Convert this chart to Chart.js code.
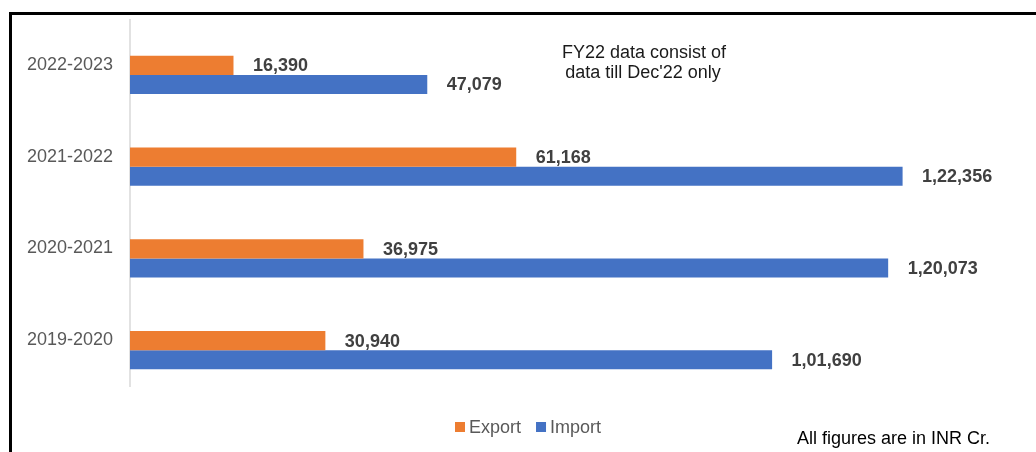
<!DOCTYPE html>
<html>
<head>
<meta charset="utf-8">
<script src="https://cdn.jsdelivr.net/npm/chart.js@4"></script>
<style>
  html, body { margin: 0; padding: 0; background: #fff; }
  #wrap { position: relative; width: 1036px; height: 452px; }
  #frame { position: absolute; left: 9px; top: 12px; right: 0; bottom: 0; border-top: 3px solid #000; border-left: 3px solid #000; pointer-events: none; }
</style>
</head>
<body>
<div id="wrap">
  <canvas id="tradeChart"></canvas>
  <div id="frame"></div>
</div>
<script>
const years = ["2022-2023", "2021-2022", "2020-2021", "2019-2020"];
const exportVals = [16390, 61168, 36975, 30940];
const importVals = [47079, 122356, 120073, 101690];
const noteLines = ["FY22 data consist of", "data till Dec'22 only"];
const unitNote = "All figures are in INR Cr.";

const FONT = '"Liberation Sans", Arial, sans-serif';
Chart.defaults.font.family = FONT;

// indian digit grouping, 122356 -> 1,22,356
function inr(n) {
  const s = String(Math.round(n));
  if (s.length <= 3) return s;
  const last3 = s.slice(-3);
  let rest = s.slice(0, -3);
  const parts = [];
  while (rest.length > 2) {
    parts.unshift(rest.slice(-2));
    rest = rest.slice(0, -2);
  }
  if (rest) parts.unshift(rest);
  return parts.join(",") + "," + last3;
}

// category axis line sits a bit higher than the bars, as in the excel original
const axisLine = {
  id: "axisLine",
  beforeDatasetsDraw(chart) {
    const c = chart.ctx;
    const a = chart.chartArea;
    c.save();
    c.strokeStyle = "#d9d9d9";
    c.lineWidth = 1.5;
    c.beginPath();
    c.moveTo(a.left, a.top - 10);
    c.lineTo(a.left, a.bottom - 9);
    c.stroke();
    c.restore();
  }
};

const valueLabels = {
  id: "valueLabels",
  afterDatasetsDraw(chart) {
    const c = chart.ctx;
    c.save();
    c.font = "bold 18px " + FONT;
    c.fillStyle = "#404040";
    c.textAlign = "left";
    c.textBaseline = "middle";
    chart.data.datasets.forEach((ds, i) => {
      chart.getDatasetMeta(i).data.forEach((bar, j) => {
        c.fillText(inr(ds.data[j]), bar.x + 19.5, bar.y + 1);
      });
    });
    c.restore();
  }
};

const notes = {
  id: "notes",
  afterDraw(chart) {
    const c = chart.ctx;
    c.save();
    c.font = "18px " + FONT;
    c.fillStyle = "#1a1a1a";
    c.textBaseline = "alphabetic";
    c.textAlign = "center";
    c.fillText(noteLines[0], 644, 58);
    c.fillText(noteLines[1], 643, 77.5);
    c.textAlign = "left";
    c.fillStyle = "#000";
    c.fillText(unitNote, 797, 443.5);

    // legend
    let x = 455;
    chart.data.datasets.forEach(ds => {
      c.fillStyle = ds.backgroundColor;
      c.fillRect(x, 422, 10, 10);
      c.fillStyle = "#595959";
      c.fillText(ds.label, x + 14, 432.7);
      x += 14 + c.measureText(ds.label).width + 15;
    });
    c.restore();
  }
};

new Chart(document.getElementById("tradeChart"), {
  type: "bar",
  data: {
    labels: years,
    datasets: [
      { label: "Export", data: exportVals, backgroundColor: "#ED7D31" },
      { label: "Import", data: importVals, backgroundColor: "#4472C4" }
    ]
  },
  options: {
    indexAxis: "y",
    responsive: true,
    maintainAspectRatio: false,
    animation: false,
    categoryPercentage: 0.415,
    barPercentage: 1,
    layout: { padding: { left: 0, right: 22, top: 29, bottom: 56 } },
    scales: {
      x: { display: false, min: 0, max: 140000 },
      y: {
        afterFit(scale) { scale.width = 130; },
        grid: { display: false, drawTicks: false },
        border: { display: false },
        ticks: { color: "#595959", font: { size: 18 }, padding: 17, labelOffset: -10 }
      }
    },
    plugins: {
      legend: { display: false },
      tooltip: { enabled: false }
    }
  },
  plugins: [axisLine, valueLabels, notes]
});
</script>
</body>
</html>
